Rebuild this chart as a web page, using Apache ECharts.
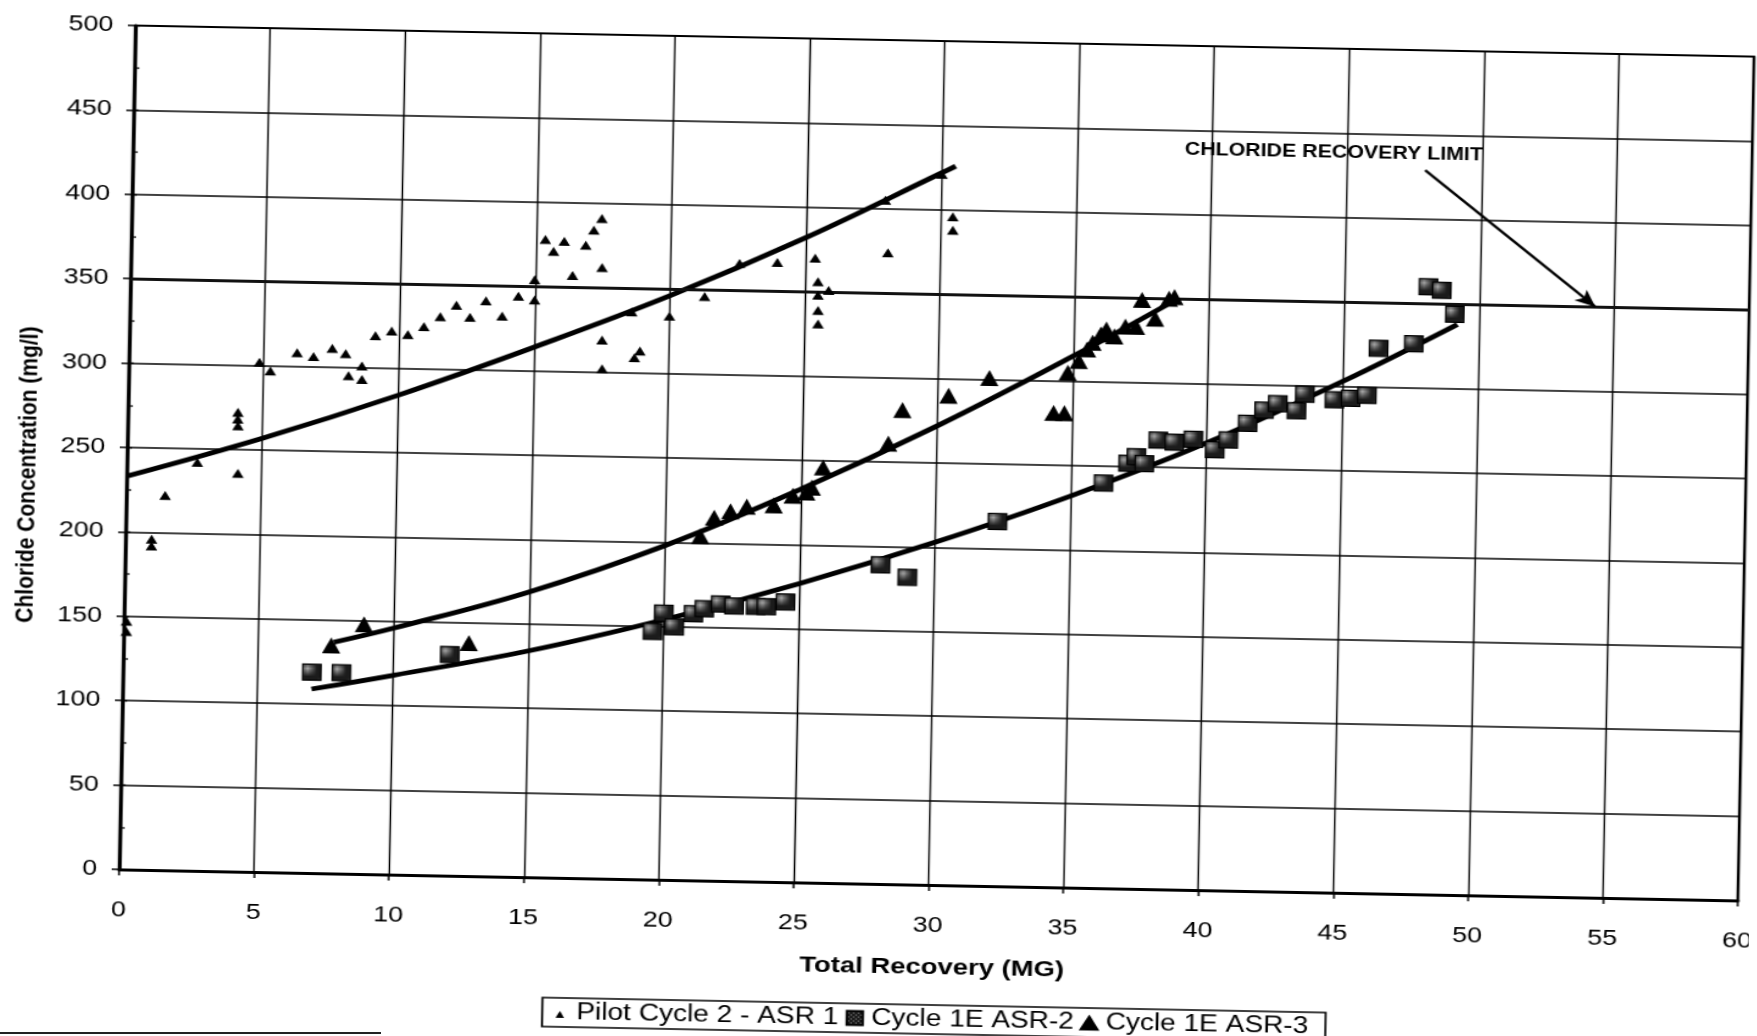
<!DOCTYPE html>
<html>
<head>
<meta charset="utf-8">
<script src="https://cdn.jsdelivr.net/npm/echarts@6/dist/echarts.min.js"></script>
<style>
  html, body { margin: 0; padding: 0; background: #fff; width: 1757px; height: 1036px; overflow: hidden; }
  /* scanned-page look: slightly wide type and a small clockwise tilt */
  #chart { position: absolute; left: 163px; top: 1px; width: 1447px; height: 1060px;
           transform-origin: 773.5px 462px; transform: rotate(1.1deg) scaleX(1.22); }
  #rule { position: absolute; left: 0; top: 1032px; width: 381px; height: 2px; background: #222; }
</style>
</head>
<body>
<div id="chart"></div>
<div id="rule"></div>
<script>
// Axis ticks
const xTicks = { min: 0, max: 60, step: 5 };
const yTicks = { min: 0, max: 500, step: 50 };

// Pilot Cycle 2 - ASR 1 (small triangles)
const pilotX = [0.1, 0.1, 0.97, 0.97, 1.44, 2.61, 4.12, 4.09, 4.08, 4.08, 4.84, 5.25, 6.23, 6.84, 7.53, 8.03, 8.15,
                8.64, 8.65, 9.12, 9.72, 10.32, 10.91, 11.51, 12.1, 12.61, 13.19, 13.8, 14.39, 14.98, 14.99, 15.35,
                15.66, 16.05, 16.38, 16.85, 17.14, 17.43, 17.47, 17.52, 17.54, 18.6, 18.73, 18.93, 20.0, 21.29,
                22.56, 23.96, 25.36, 25.48, 25.49, 25.5, 25.51, 25.88, 27.92, 28.05, 30.0, 30.43, 30.44];
const pilotY = [141, 147, 192, 196, 222, 242, 236, 264, 268, 272, 302, 297, 308, 306, 311, 308, 295,
                301, 293, 319, 322, 320, 325, 331, 338, 331, 341, 332, 344, 354, 342, 378,
                371, 377, 357, 375, 384, 391, 362, 319, 302, 336, 309, 313, 334, 346,
                366, 367, 370, 356, 348, 339, 331, 351, 405, 374, 421, 396, 388];

// Cycle 1E ASR-2 (squares)
const asr2X = [7.0, 8.1, 12.1, 19.6, 20.0, 20.4, 21.1, 21.5, 22.1, 22.6, 23.4, 23.8, 24.5, 28.0, 29.0, 32.3, 36.2,
               37.1, 37.4, 37.7, 38.2, 38.8, 39.5, 40.3, 40.8, 41.5, 42.1, 42.6, 43.3, 43.6, 44.7, 45.3, 45.9,
               46.3, 47.6, 48.1, 48.6, 49.1];
const asr2Y = [119, 119, 131, 147, 158, 150, 158, 161, 164, 163, 163, 163, 166, 189, 182, 216, 240,
               252, 256, 252, 266, 265, 267, 261, 267, 277, 285, 289, 285, 295, 292, 293, 295,
               323, 326, 360, 358, 344];

// Cycle 1E ASR-3 (large triangles)
const asr3X = [7.7, 8.9, 12.8, 21.3, 21.8, 22.4, 23.0, 24.0, 24.7, 25.2, 25.4, 25.8, 28.2, 28.7, 30.4, 31.9,
               34.3, 34.7, 34.8, 35.2, 35.5, 35.7, 36.0, 36.2, 36.5, 36.9, 37.3, 37.5, 38.0, 38.5, 38.7];
const asr3Y = [135, 148, 138, 204, 215, 219, 222, 223, 229, 231, 234, 246, 261, 281, 290, 301,
               281, 281, 305, 312, 319, 323, 328, 331, 327, 333, 333, 349, 338, 350, 351];

// Trend curves through each data set
const pilotFitX = [0, 5, 10, 15, 20, 25, 30, 30.5];
const pilotFitY = [233, 257, 284, 314, 346, 382, 422, 426];
const asr2FitX = [7, 10, 15, 20, 25, 30, 35, 40, 45, 49.2];
const asr2FitY = [109, 118, 134, 154, 177, 203, 232, 265, 303, 338];
const asr3FitX = [7.8, 10, 15, 20, 25, 30, 35, 38.6];
const asr3FitY = [137, 146, 169, 198, 233, 272, 315, 348];

// Chloride recovery limit and its callout
const limitValue = 350;
const limitLabel = 'CHLORIDE RECOVERY LIMIT';
const calloutText = [44.5, 438];
const calloutArrow = [[47.9, 429], [54.3, 350]];

const seriesNames = ['Pilot Cycle 2 - ASR 1', 'Cycle 1E ASR-2', 'Cycle 1E ASR-3'];

const pairs = (xs, ys) => xs.map((x, i) => [x, ys[i]]);
const FONT = '"Liberation Sans", Arial, Helvetica, sans-serif';

// speckled dark fill used by the square markers
const tile = document.createElement('canvas');
tile.width = 4; tile.height = 4;
const tctx = tile.getContext('2d');
tctx.fillStyle = '#1b1b1b'; tctx.fillRect(0, 0, 4, 4);
tctx.fillStyle = '#a8a8a8'; tctx.fillRect(1, 1, 1, 1); tctx.fillRect(3, 3, 1, 1);
const speckle = { image: tile, repeat: 'repeat' };

const fitLine = (name, xs, ys, extra) => Object.assign({
  name: name, type: 'line', data: pairs(xs, ys), smooth: 0.4, symbol: 'none', showSymbol: false,
  silent: true, z: 4, lineStyle: { color: '#000', width: 4.8 }, itemStyle: { color: '#000' }
}, extra || {});

const chart = echarts.init(document.getElementById('chart'), null, { renderer: 'canvas', width: 1447, height: 1060 });

chart.setOption({
  animation: false,
  backgroundColor: '#fff',
  textStyle: { fontFamily: FONT, color: '#000' },
  grid: { left: 110, top: 40, width: 1327, height: 844, show: true, borderColor: '#000', borderWidth: 2.2,
          backgroundColor: 'transparent', outerBoundsMode: 'none' },
  legend: {
    left: 459, top: 1004, orient: 'horizontal', selectedMode: false,
    itemWidth: 17, itemHeight: 17, itemGap: 4, padding: [1, 14, 1, 6],
    borderColor: '#000', borderWidth: 1.6, backgroundColor: '#fff',
    textStyle: { fontSize: 23, lineHeight: 27, color: '#000', fontFamily: FONT },
    data: [
      { name: seriesNames[0], icon: 'path://M0,0M17,17M8.5,7L12,14L5,14Z' },
      { name: seriesNames[1], icon: 'path://M0,0M17,17M2,1.5H15V15.5H2Z' },
      { name: seriesNames[2], icon: 'path://M0,0M17,17M8.5,0.5L17,16.5L0,16.5Z' }
    ]
  },
  xAxis: {
    type: 'value', min: xTicks.min, max: xTicks.max, interval: xTicks.step,
    name: 'Total Recovery (MG)', nameLocation: 'middle', nameGap: 71,
    nameTextStyle: { fontSize: 22.5, fontWeight: 'bold', color: '#000', fontFamily: FONT, padding: [0, 0, 0, 8] },
    axisLine: { show: true, onZero: false, lineStyle: { color: '#000', width: 3 } },
    axisTick: { show: true, length: 6, lineStyle: { color: '#000', width: 1.5 } },
    axisLabel: { fontSize: 22, color: '#000', margin: 30, fontFamily: FONT },
    splitLine: { show: true, lineStyle: { color: '#000', width: 1.3 } }
  },
  yAxis: [{
    type: 'value', min: yTicks.min, max: yTicks.max, interval: yTicks.step,
    name: 'Chloride Concentration (mg/l)', nameLocation: 'middle', nameGap: 70, nameRotate: 90,
    nameTextStyle: { fontSize: 21, fontWeight: 'bold', color: '#000', fontFamily: FONT, padding: [0, 58, 0, 0] },
    axisLine: { show: true, onZero: false, lineStyle: { color: '#000', width: 3.2 } },
    axisTick: { show: true, length: 6, lineStyle: { color: '#000', width: 1.5 } },
    axisLabel: { fontSize: 22, color: '#000', margin: 18, fontFamily: FONT },
    splitLine: { show: true, lineStyle: { color: '#000', width: 1.5 } }
  }, {
    // short inner ticks every 25 mg/l
    type: 'value', min: yTicks.min, max: yTicks.max, interval: yTicks.step / 2, position: 'left',
    axisLine: { show: false }, axisLabel: { show: false }, splitLine: { show: false },
    axisTick: { show: true, inside: true, length: 4, lineStyle: { color: '#000', width: 1.3 } }
  }],
  series: [
    {
      name: seriesNames[0], type: 'scatter', data: pairs(pilotX, pilotY), z: 5,
      symbol: 'triangle', symbolSize: [9.5, 9], itemStyle: { color: '#000', opacity: 1 }
    },
    {
      name: seriesNames[1], type: 'scatter', data: pairs(asr2X, asr2Y), z: 5,
      symbol: 'rect', symbolSize: [15, 16],
      itemStyle: { color: speckle, borderColor: '#000', borderWidth: 1.2, opacity: 1 }
    },
    {
      name: seriesNames[2], type: 'scatter', data: pairs(asr3X, asr3Y), z: 5,
      symbol: 'triangle', symbolSize: [15, 16], itemStyle: { color: '#000', opacity: 1 }
    },
    fitLine('Pilot trend', pilotFitX, pilotFitY, {
      markLine: {
        silent: true, symbol: ['none', 'none'], animation: false,
        label: { show: false },
        lineStyle: { color: '#111', width: 2.8, type: 'solid' },
        data: [{ yAxis: limitValue }]
      }
    }),
    fitLine('ASR-2 trend', asr2FitX, asr2FitY, {
      markLine: {
        silent: true, animation: false, symbol: ['none', 'arrow'], symbolSize: 16,
        label: { show: false },
        lineStyle: { color: '#000', width: 2.4, type: 'solid' },
        data: [[
          { coord: calloutArrow[0], symbol: 'none' },
          { coord: calloutArrow[1], symbol: 'arrow', symbolSize: [11, 17] }
        ]]
      },
      markPoint: {
        silent: true, animation: false,
        symbol: 'circle', symbolSize: 1, itemStyle: { color: 'rgba(0,0,0,0)' },
        label: { show: true, position: 'inside', formatter: limitLabel, fontSize: 17.5,
                 fontWeight: 'bold', color: '#000', fontFamily: FONT },
        data: [{ coord: calloutText }]
      }
    }),
    fitLine('ASR-3 trend', asr3FitX, asr3FitY)
  ]
});
</script>
</body>
</html>
